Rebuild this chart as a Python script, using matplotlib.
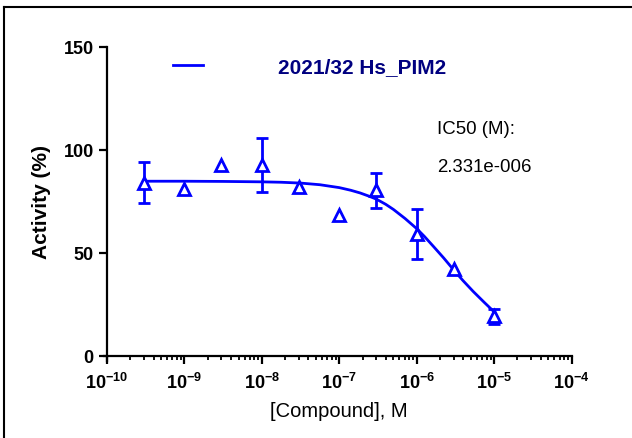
import numpy as np
import matplotlib
matplotlib.use("Agg")
import matplotlib.pyplot as plt
from matplotlib.lines import Line2D

plt.rcParams['font.family'] = ['Liberation Sans', 'DejaVu Sans']
plt.rcParams['mathtext.fontset'] = 'custom'
plt.rcParams['mathtext.rm'] = 'Liberation Sans'
plt.rcParams['mathtext.bf'] = 'Liberation Sans:bold'

# measured points (mean +/- error, 0 = no bar drawn)
conc = [3e-10, 1e-9, 3e-9, 1e-8, 3e-8, 1e-7, 3e-7, 1e-6, 3e-6, 1e-5]
activity = [83.9, 80.6, 92.4, 92.5, 82.0, 68.0, 80.1, 58.9, 41.8, 19.0]
err = [10.0, 0, 0, 13.0, 0, 0, 8.3, 12.0, 0, 3.6]

# fitted curve
fit_logx = [-9.52, -9.0, -8.5, -8.0, -7.75, -7.5, -7.25, -7.0, -6.85, -6.73,
            -6.62, -6.52, -6.40, -6.30, -6.15, -6.0, -5.9, -5.78, -5.65,
            -5.53, -5.4, -5.27, -5.13, -5.0]
fit_y = [84.6, 84.6, 84.5, 84.3, 84.1, 83.7, 82.9, 81.5, 80.2, 78.9,
         77.4, 75.9, 73.4, 70.9, 66.5, 61.6, 57.8, 52.8, 47.3,
         41.9, 36.3, 31.1, 25.9, 21.2]

decades = [-10, -9, -8, -7, -6, -5, -4]
yticks = [0, 50, 100, 150]
series_name = "2021/32 Hs_PIM2"
ic50_text = ["IC50 (M):", "2.331e-006"]

blue = '#0000FF'

fig = plt.figure(figsize=(6.32, 4.39), dpi=100)
ax = fig.add_axes([107 / 632, 1 - 356.5 / 439, 464.5 / 632, 309 / 439])

ax.plot(10.0 ** np.array(fit_logx), fit_y, color=blue, lw=2.0, zorder=2,
        solid_joinstyle='round', label=series_name)

conc_a = np.array(conc)
act_a = np.array(activity)
err_a = np.array(err)
has_err = err_a > 0
ax.errorbar(conc_a[has_err], act_a[has_err], yerr=err_a[has_err], fmt='none',
            ecolor=blue, elinewidth=2.0, capsize=4.5, capthick=2.0, zorder=3)
ax.plot(conc_a, act_a, linestyle='none', marker='^', markersize=8.5,
        markerfacecolor='white', markeredgecolor=blue, markeredgewidth=2.0,
        zorder=4)

ax.set_xscale('log')
ax.set_xlim(1e-10, 1e-4)
ax.set_ylim(0, 150)
ax.set_xticks([10.0 ** d for d in decades])
ax.set_xticklabels([r'$\mathbf{10^{%d}}$' % d for d in decades])
ax.set_yticks(yticks)
ax.set_yticklabels([str(v) for v in yticks])

for s in ['top', 'right']:
    ax.spines[s].set_visible(False)
for s in ['left', 'bottom']:
    ax.spines[s].set_linewidth(1.6)
ax.spines['left'].set_bounds(-2.5, 150)
ax.spines['bottom'].set_bounds(10 ** -10.04, 1e-4)

ax.tick_params(axis='both', which='major', width=1.6, length=6, labelsize=13)
ax.tick_params(axis='x', which='major', length=5.5, pad=6)
ax.tick_params(axis='x', which='minor', width=1.3, length=3)
ax.tick_params(axis='y', which='minor', left=False)
for lbl in ax.get_yticklabels():
    lbl.set_fontweight('bold')

ax.set_xlabel("[Compound], M", fontsize=14.5, labelpad=7)
ax.set_ylabel("Activity (%)", fontsize=15, fontweight='bold', labelpad=9)

leg = ax.legend(loc='center left', bbox_to_anchor=(173 / 632, 1 - 68 / 439),
                bbox_transform=fig.transFigure, frameon=False, borderpad=0,
                borderaxespad=0, handlelength=1.45, handletextpad=3.6,
                prop={'size': 15, 'weight': 'bold'})
for t in leg.get_texts():
    t.set_color('#000080')

fig.text(437 / 632, 1 - 130 / 439, ic50_text[0], fontsize=13.4, va='center')
fig.text(437 / 632, 1 - 168 / 439, ic50_text[1], fontsize=13.4, va='center')

# outer frame (only top and left edges visible)
fig.add_artist(Line2D([4 / 632, 4 / 632], [0, 1 - 8 / 439], color='black',
                      lw=1.5, transform=fig.transFigure))
fig.add_artist(Line2D([4 / 632, 1], [1 - 8 / 439, 1 - 8 / 439],
                      color='black', lw=1.5, transform=fig.transFigure))

fig.savefig("out.png", dpi=100)
